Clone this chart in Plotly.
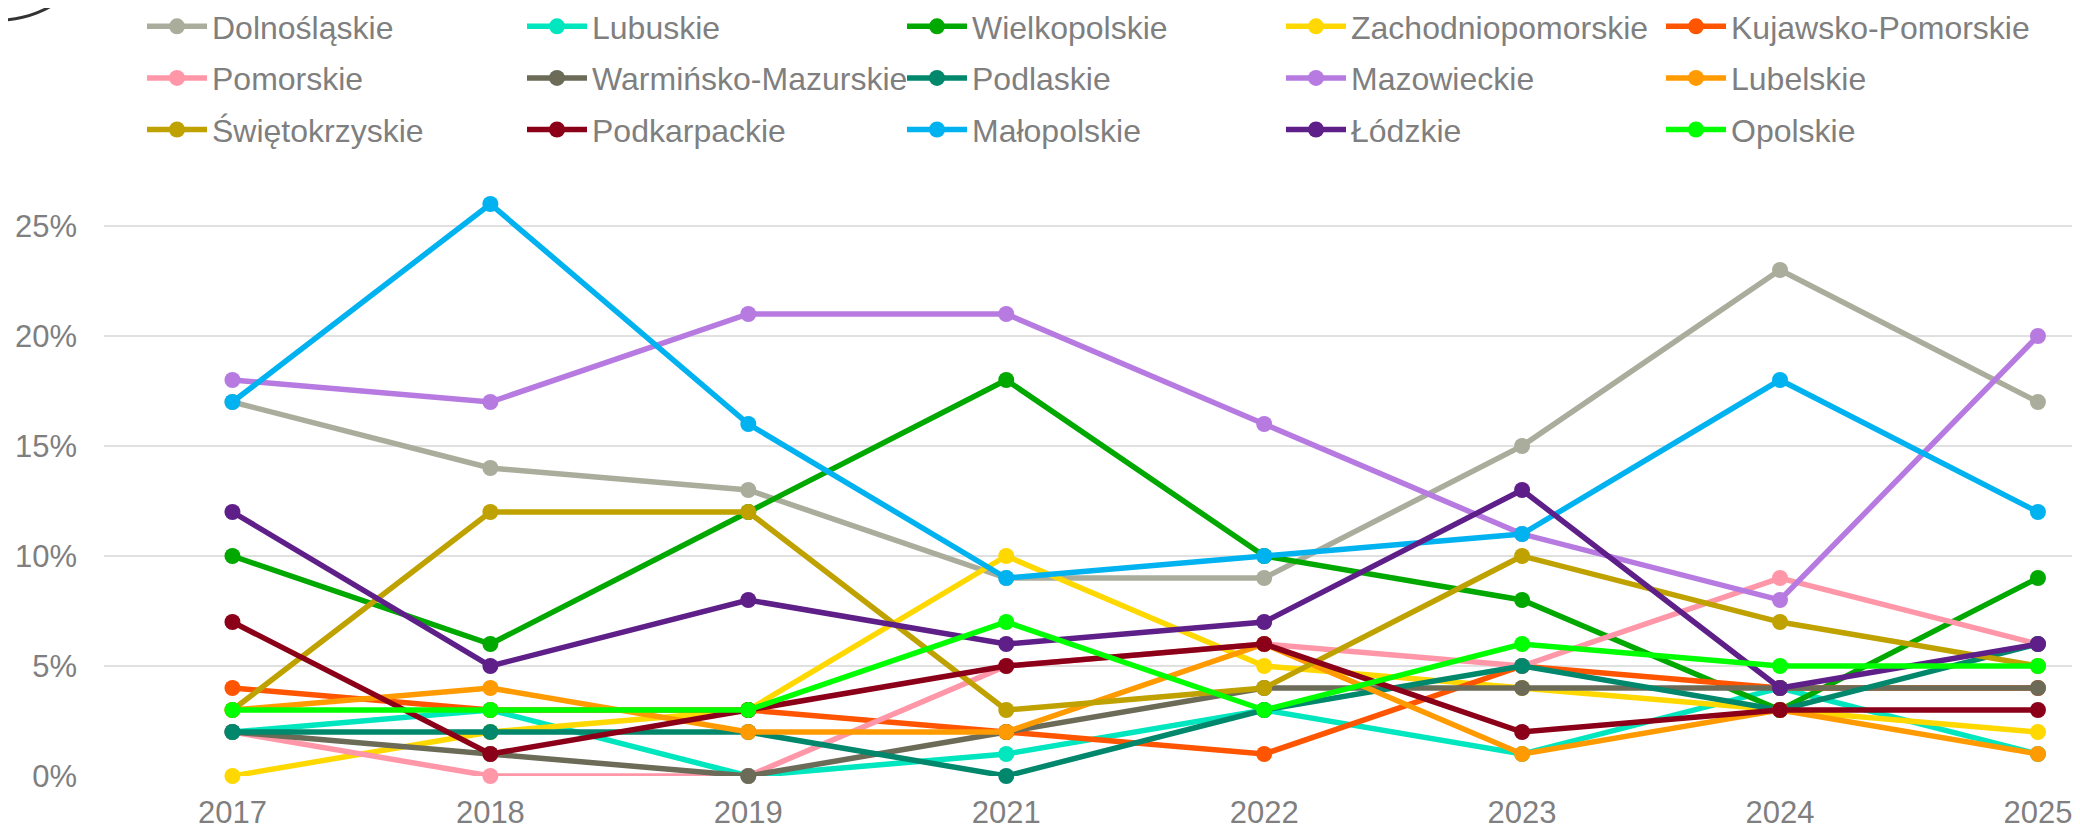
import plotly.graph_objects as go

years = ["2017", "2018", "2019", "2021", "2022", "2023", "2024", "2025"]

dolnoslaskie = [17, 14, 13, 9, 9, 15, 23, 17]
lubuskie = [2, 3, 0, 1, 3, 1, 4, 1]
wielkopolskie = [10, 6, 12, 18, 10, 8, 3, 9]
zachodniopomorskie = [0, 2, 3, 10, 5, 4, 3, 2]
kujawsko_pomorskie = [4, 3, 3, 2, 1, 5, 4, 4]
pomorskie = [2, 0, 0, 5, 6, 5, 9, 6]
warminsko_mazurskie = [2, 1, 0, 2, 4, 4, 4, 4]
podlaskie = [2, 2, 2, 0, 3, 5, 3, 6]
mazowieckie = [18, 17, 21, 21, 16, 11, 8, 20]
lubelskie = [3, 4, 2, 2, 6, 1, 3, 1]
swietokrzyskie = [3, 12, 12, 3, 4, 10, 7, 5]
podkarpackie = [7, 1, 3, 5, 6, 2, 3, 3]
malopolskie = [17, 26, 16, 9, 10, 11, 18, 12]
lodzkie = [12, 5, 8, 6, 7, 13, 4, 6]
opolskie = [3, 3, 3, 7, 3, 6, 5, 5]

series = [
    ("Dolnośląskie", dolnoslaskie, "#ABAD9C"),
    ("Lubuskie", lubuskie, "#00E6BE"),
    ("Wielkopolskie", wielkopolskie, "#00A800"),
    ("Zachodniopomorskie", zachodniopomorskie, "#FFD800"),
    ("Kujawsko-Pomorskie", kujawsko_pomorskie, "#FF5500"),
    ("Pomorskie", pomorskie, "#FF97A8"),
    ("Warmińsko-Mazurskie", warminsko_mazurskie, "#6B6B58"),
    ("Podlaskie", podlaskie, "#00876C"),
    ("Mazowieckie", mazowieckie, "#B67AE0"),
    ("Lubelskie", lubelskie, "#FF9A00"),
    ("Świętokrzyskie", swietokrzyskie, "#BFA200"),
    ("Podkarpackie", podkarpackie, "#8B0018"),
    ("Małopolskie", malopolskie, "#00B2F0"),
    ("Łódzkie", lodzkie, "#5E1F88"),
    ("Opolskie", opolskie, "#00FF00"),
]

# page has an 8px body margin: figure is sized/offset to compensate
OFF = 8
W, H = 2080 - OFF, 826 - OFF
L, R, T, B = 96, 0, 174, 50
FONT = "Liberation Sans, Arial, sans-serif"
GRAY = "#7F7F7F"
pw, ph = W - L - R, H - T - B

fig = go.Figure()
legend_names = ["legend", "legend2", "legend3", "legend4", "legend5"]
for i, (name, vals, col) in enumerate(series):
    fig.add_trace(go.Scatter(
        x=years, y=[v / 100 for v in vals], name=name,
        mode="lines+markers",
        line=dict(color=col, width=5.5),
        marker=dict(color=col, size=16),
        cliponaxis=False,
        legend=legend_names[i % 5],
        legendgroup=name,
    ))

col_x = [134, 514, 894, 1273, 1653]
leg_top = -9
leg_common = dict(
    font=dict(family=FONT, size=32, color=GRAY),
    bgcolor="rgba(0,0,0,0)", xref="paper", yref="paper",
    xanchor="left", yanchor="top", orientation="v",
    tracegroupgap=7, itemwidth=60,
)
legends = {}
for k, ln in enumerate(legend_names):
    legends[ln] = dict(x=(col_x[k] - L) / pw, y=1 + (T - leg_top) / ph, **leg_common)

# decorative arc in the top-left corner
def px2x(p):
    return (p - OFF - L) / pw
def py2y(p):
    return (H - B - (p - OFF)) / ph

fig.update_layout(
    width=W, height=H,
    margin=dict(l=L, r=R, t=T, b=B, autoexpand=False),
    paper_bgcolor="white", plot_bgcolor="white",
    font=dict(family=FONT, size=31, color=GRAY),
    showlegend=True,
    xaxis=dict(
        type="category", range=[-0.498, 7.163],
        showgrid=False, zeroline=False, showline=False,
        tickfont=dict(family=FONT, size=31, color=GRAY),
        ticks="", ticklabelstandoff=15, tickangle=0,
    ),
    yaxis=dict(
        range=[0, 0.27], tickvals=[0, 0.05, 0.10, 0.15, 0.20, 0.25],
        tickformat=".0%", showgrid=True, gridcolor="#E0E0E0", gridwidth=2,
        zeroline=False, showline=False,
        tickfont=dict(family=FONT, size=31, color=GRAY),
        ticks="", ticklabelstandoff=26,
    ),
    shapes=[dict(
        type="circle", xref="paper", yref="paper",
        x0=px2x(-100), x1=px2x(100), y0=py2y(20), y1=py2y(-180),
        line=dict(color="#333333", width=3), fillcolor="rgba(0,0,0,0)",
        layer="above",
    )],
    **legends,
)

fig.write_html("out.html")
